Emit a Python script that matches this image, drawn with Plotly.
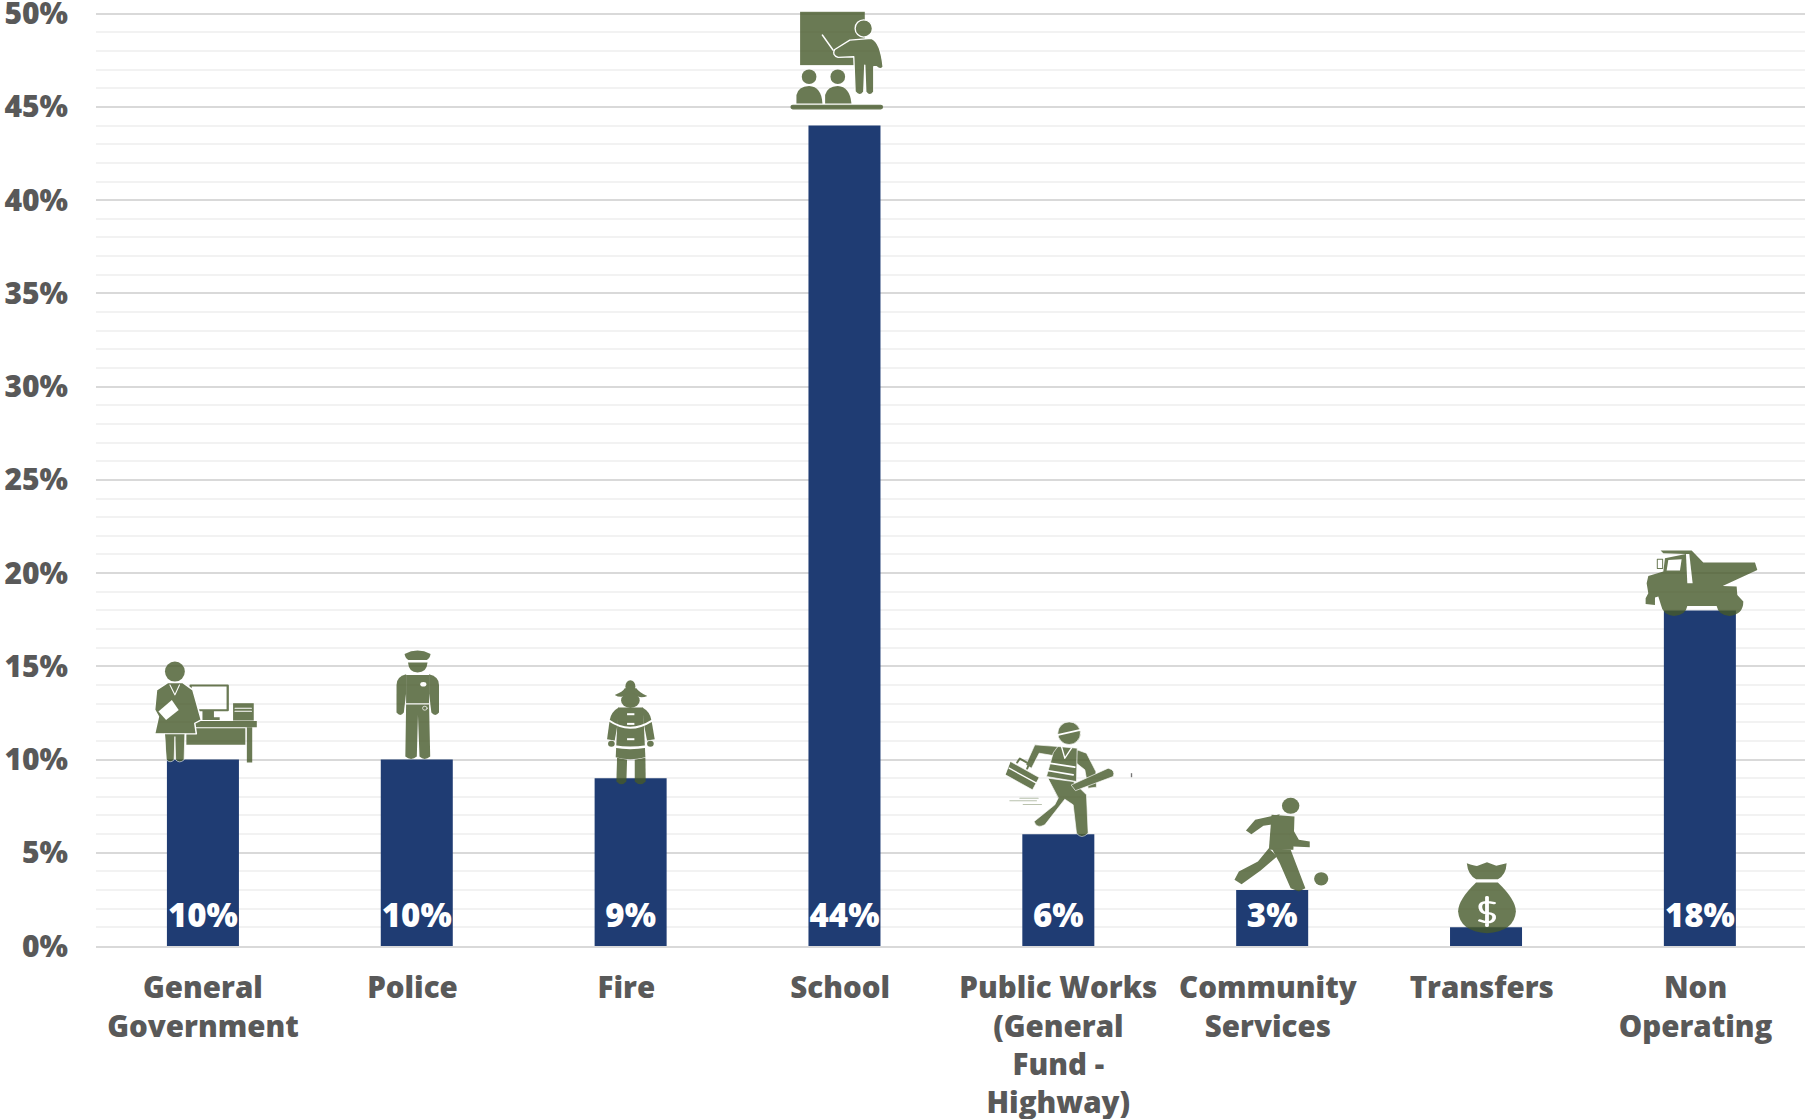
import base64
import plotly.graph_objects as go

categories = ["General<br>Government", "Police", "Fire", "School",
              "Public Works<br>(General<br>Fund -<br>Highway)",
              "Community<br>Services", "Transfers", "Non<br>Operating"]
values = [10, 10, 9, 44, 6, 3, 1, 18]
label_hidden = ["Transfers"]
tick_nudge = [0, -0.02, -0.02, -0.02, 0, -0.02, -0.02, -0.02]
y_ticks = list(range(0, 51, 5))

W, H = 1805, 1119
L, T, B = 96.4, 13.6, 946.2
STEP = 213.8
UNIT = (B - T) / 50
NAVY = "#1F3C73"
INK = "#595959"
FONT = "Open Sans"
GREEN = "#46592A"
Y_TOP = 50.2   # keeps the 50% gridline just inside the plot


def px_x(p):
    return (p - L) / STEP - 0.5


def px_y(p):
    return (B - p) / UNIT


def svg(vb, body):
    x, y, w, h = vb
    s = (f'<svg xmlns="http://www.w3.org/2000/svg" width="{w*2}" height="{h*2}" '
         f'viewBox="{x} {y} {w} {h}" preserveAspectRatio="none">'
         f'<g fill="{GREEN}" stroke-linecap="round" stroke-linejoin="round">{body}</g></svg>')
    return "data:image/svg+xml;base64," + base64.b64encode(s.encode()).decode()


WL = 'stroke="#fff" fill="none"'

gov = f'''
<rect x="499" y="137" width="97" height="74" fill="none" stroke="{GREEN}" stroke-width="6"/>
<path d="M530,212 H560 V232 H575 V240 H530Z"/>
<rect x="610" y="190" width="54" height="52"/>
<path d="M615,205 H658 M615,214 H658" {WL} stroke-width="3"/>
<path d="M510,243 H672 V262 H510Z"/>
<path d="M488,265 H642 V315 H488Z"/>
<path d="M646,262 H660 V368 H646Z"/>
<ellipse cx="458" cy="95" rx="26" ry="30"/>
<path d="M440,128 L478,128 L505,150 L527,240 L510,250 L514,282 L405,282 L415,230 L405,210 L410,150Z" stroke="#fff" stroke-width="4"/>
<path d="M432,282 H484 L482,360 Q470,372 460,360 L458,290 L456,360 Q445,372 436,360Z" stroke="#fff" stroke-width="2"/>
<path d="M415,215 L450,180 L468,210 L435,240Z" fill="#fff"/>
<path d="M445,135 L458,165 L470,135" {WL} stroke-width="3"/>
'''

police = f'''
<path d="M1058,42 Q1092,22 1126,42 Q1124,56 1116,60 H1068 Q1060,56 1058,42Z"/>
<path d="M1065,62 H1119" {WL} stroke-width="3"/>
<path d="M1067,68 H1118 Q1116,98 1092,98 Q1069,98 1067,68Z"/>
<path d="M1062,105 L1122,105 L1122,195 L1125,350 Q1110,365 1097,350 L1093,225 L1090,350 Q1075,365 1060,350 L1062,195Z"/>
<path d="M1062,103 Q1037,110 1037,135 L1037,218 Q1047,232 1056,218 L1062,160Z"/>
<path d="M1122,103 Q1148,110 1148,135 L1148,218 Q1138,232 1128,218 L1122,160Z"/>
<path d="M1062,192 H1122" {WL} stroke-width="4"/>
<ellipse cx="1107" cy="133" rx="8" ry="7" fill="#fff"/>
<ellipse cx="1111" cy="205" rx="6" ry="6" {WL} stroke-width="2"/>
'''

fire = f'''
<ellipse cx="152" cy="50" rx="15" ry="19"/>
<path d="M105,75 Q130,66 135,55 L170,55 Q178,68 203,78 Q180,88 152,72 Q125,88 105,75Z"/>
<ellipse cx="152" cy="92" rx="28" ry="22"/>
<path d="M115,113 L190,113 L197,262 Q150,275 108,262Z"/>
<path d="M117,113 Q95,125 90,150 L82,208 L105,212 L114,160Z"/>
<path d="M188,113 Q210,125 215,150 L225,208 L202,212 L192,160Z"/>
<path d="M88,152 Q150,195 217,152" {WL} stroke-width="6"/>
<path d="M105,230 Q150,238 200,230" {WL} stroke-width="8"/>
<rect x="142" y="130" width="22" height="6" fill="#fff"/>
<rect x="142" y="159" width="22" height="6" fill="#fff"/>
<rect x="142" y="205" width="22" height="6" fill="#fff"/>
<ellipse cx="95" cy="222" rx="10" ry="9"/>
<ellipse cx="212" cy="222" rx="10" ry="9"/>
<path d="M112,264 L142,270 L140,335 Q125,352 110,335Z"/>
<path d="M165,270 L197,264 L198,335 Q182,352 165,335Z"/>
'''

school = f'''
<rect x="151" y="35" width="194" height="160"/>
<path d="M218,105 L250,150" {WL} stroke-width="5"/>
<path d="M300,120 L365,115 Q392,125 400,200 Q392,212 380,200 L372,200 L372,275 Q360,292 348,275 L345,195 L342,275 Q330,292 316,275 L312,170 L265,172 Q245,165 255,148Z" stroke="#fff" stroke-width="4"/>
<circle cx="342" cy="85" r="26" stroke="#fff" stroke-width="4"/>
<circle cx="178" cy="230" r="22"/>
<circle cx="264" cy="230" r="22"/>
<path d="M140,310 L140,285 Q145,260 178,258 Q215,260 218,310Z"/>
<path d="M226,310 L226,285 Q232,260 264,258 Q300,260 305,310Z"/>
<rect x="122" y="314" width="278" height="14" rx="7"/>
'''

worker = f'''
<g stroke="#fff" stroke-width="2">
<path d="M205,110 L135,105 L108,165 L125,175 L148,130 L195,138Z"/>
<path d="M62,155 L148,203 L128,240 L47,195Z"/>
<path d="M82,158 L90,146 L118,162 L112,176" fill="none" stroke="{GREEN}" stroke-width="6"/>
<path d="M262,120 L290,130 L318,185 L320,232 L295,235 L285,180 L260,160Z"/>
<path d="M205,110 L262,115 L260,215 L170,200 L190,130Z"/>
<path d="M175,205 L250,215 L290,255 L295,370 Q275,390 260,370 L250,285 L225,268 L165,345 Q140,358 133,335 L195,285 L205,265Z"/>
<path d="M245,225 L355,175 Q378,180 370,200 L258,242Z"/>
<circle cx="238" cy="70" r="34"/>
</g>
<path d="M58,175 L140,220" {WL} stroke-width="4"/>
<path d="M205,75 L272,60" {WL} stroke-width="5"/>
<path d="M178,160 L255,172 M172,182 L250,195" {WL} stroke-width="5"/>
<path d="M215,110 L225,145 L245,115" {WL} stroke-width="4"/>
<path d="M60,273 H140 M90,265 H145 M100,284 H155" stroke="#a9b49a" fill="none" stroke-width="3"/>
<rect x="423" y="190" width="4" height="12" fill="#555"/>
'''

runner = f'''
<ellipse cx="625" cy="318" rx="16" ry="24"/>
<path d="M605,343 L560,360 L543,392 L553,403 L575,378 L597,372Z"/>
<path d="M590,345 L632,350 L630,450 L585,450Z"/>
<path d="M628,385 L640,420 L660,425 L660,442 L630,440 L622,410Z"/>
<path d="M590,445 L625,450 L652,565 L640,575 L625,565 L605,490Z"/>
<path d="M585,445 L600,470 L570,512 L535,553 L522,540 L530,515 L565,485Z"/>
<ellipse cx="681" cy="537" rx="13" ry="20"/>
'''

bag = f'''
<path d="M948,490 Q965,500 968,498 L985,487 L1002,498 L1021,490 Q1020,525 1005,538 L965,538 Q950,525 948,490Z"/>
<path d="M965,548 L1005,548 Q1038,600 1038,635 Q1035,695 985,700 Q935,695 932,635 Q932,600 965,548Z"/>
<path d="M998,610 Q970,600 973,625 Q975,640 985,640 Q1000,640 998,655 Q995,675 972,662 M985,592 V678" {WL} stroke-width="7"/>
'''

truck = f'''
<path d="M182,62 L275,62 L310,98 L465,98 L472,120 L368,168 L410,170 L412,195 L430,215 Q430,255 388,258 Q355,255 350,228 L262,228 Q258,255 222,258 Q188,255 183,225 L175,200 L165,203 L165,225 L137,222 L137,205 L145,190 L140,160 L145,138 L190,125 L195,85 L258,72 L190,70Z"/>
<path d="M205,90 L245,88 L240,122 L200,122Z" fill="#fff"/>
<path d="M258,72 L268,72 L278,160 L262,160Z" fill="#fff"/>
<rect x="172" y="88" width="16" height="28" fill="none" stroke="{GREEN}" stroke-width="3"/>
'''

# crop origin, crop scale x / y, viewBox, drawing
icons = [
    (0, 640, 2.613, 3, (395, 60, 285, 315), gov),
    (0, 640, 2.613, 3, (1030, 20, 125, 350), police),
    (580, 670, 3, 3, (75, 25, 155, 330), fire),
    (750, 0, 3, 3, (115, 30, 290, 302), school),
    (990, 710, 3, 3, (40, 25, 392, 365), worker),
    (950, 700, 1.834, 3, (515, 290, 185, 290), runner),
    (950, 700, 1.834, 3, (925, 482, 120, 222), bag),
    (1600, 530, 3, 3, (130, 58, 347, 204), truck),
]

images = []
for cx, cy, sx, sy, (vx, vy, vw, vh), body in icons:
    left, top = cx + vx / sx, cy + vy / sy
    images.append(dict(
        source=svg((vx, vy, vw, vh), body),
        xref="x", yref="y", layer="above", sizing="stretch",
        x=px_x(left), y=px_y(top),
        sizex=(vw / sx) / STEP, sizey=(vh / sy) / UNIT,
        xanchor="left", yanchor="top", opacity=0.8,
    ))

positions = list(range(len(categories)))
names = [c.replace("<br>", " ") for c in categories]

fig = go.Figure()
fig.add_trace(go.Bar(x=positions, y=values, marker=dict(color=NAVY, line=dict(width=0)),
                     width=72 / STEP, hoverinfo="skip", showlegend=False))
lab_x = [p for p, n in zip(positions, names) if n not in label_hidden]
lab_t = [f"{v}%" for v, n in zip(values, names) if n not in label_hidden]
fig.add_trace(go.Scatter(x=lab_x, y=[1.45] * len(lab_x), text=lab_t, mode="text",
                         textposition="middle center",
                         textfont=dict(family=FONT, size=33, color="#ffffff", weight=800),
                         hoverinfo="skip", showlegend=False))

fig.update_layout(
    width=W, height=H, paper_bgcolor="#ffffff", plot_bgcolor="#ffffff",
    margin=dict(l=L, r=0, t=T - (Y_TOP - 50) * UNIT, b=H - B, pad=0, autoexpand=False),
    showlegend=False, images=images,
    xaxis=dict(range=[-0.5, px_x(W)], tickmode="array",
               tickvals=[p + n for p, n in zip(positions, tick_nudge)],
               ticktext=categories, showgrid=False, zeroline=False,
               showline=True, linecolor="#d9d9d9", linewidth=2,
               ticks="", ticklabelstandoff=15, tickangle=0,
               tickfont=dict(family=FONT, size=29.5, color=INK, weight=800)),
    yaxis=dict(range=[0, Y_TOP], tickmode="array", tickvals=y_ticks,
               ticktext=[f"{v}%" for v in y_ticks],
               showgrid=True, gridcolor="#d9d9d9", gridwidth=2, zeroline=False,
               minor=dict(dtick=1, showgrid=True, gridcolor="#f2f2f2", gridwidth=2),
               ticks="", ticklabelstandoff=27, ticklabeloverflow="allow",
               tickfont=dict(family=FONT, size=30, color=INK, weight=800)),
)

fig.write_html("out.html", config=dict(displayModeBar=False),
               post_script="document.body.style.margin='0';")
